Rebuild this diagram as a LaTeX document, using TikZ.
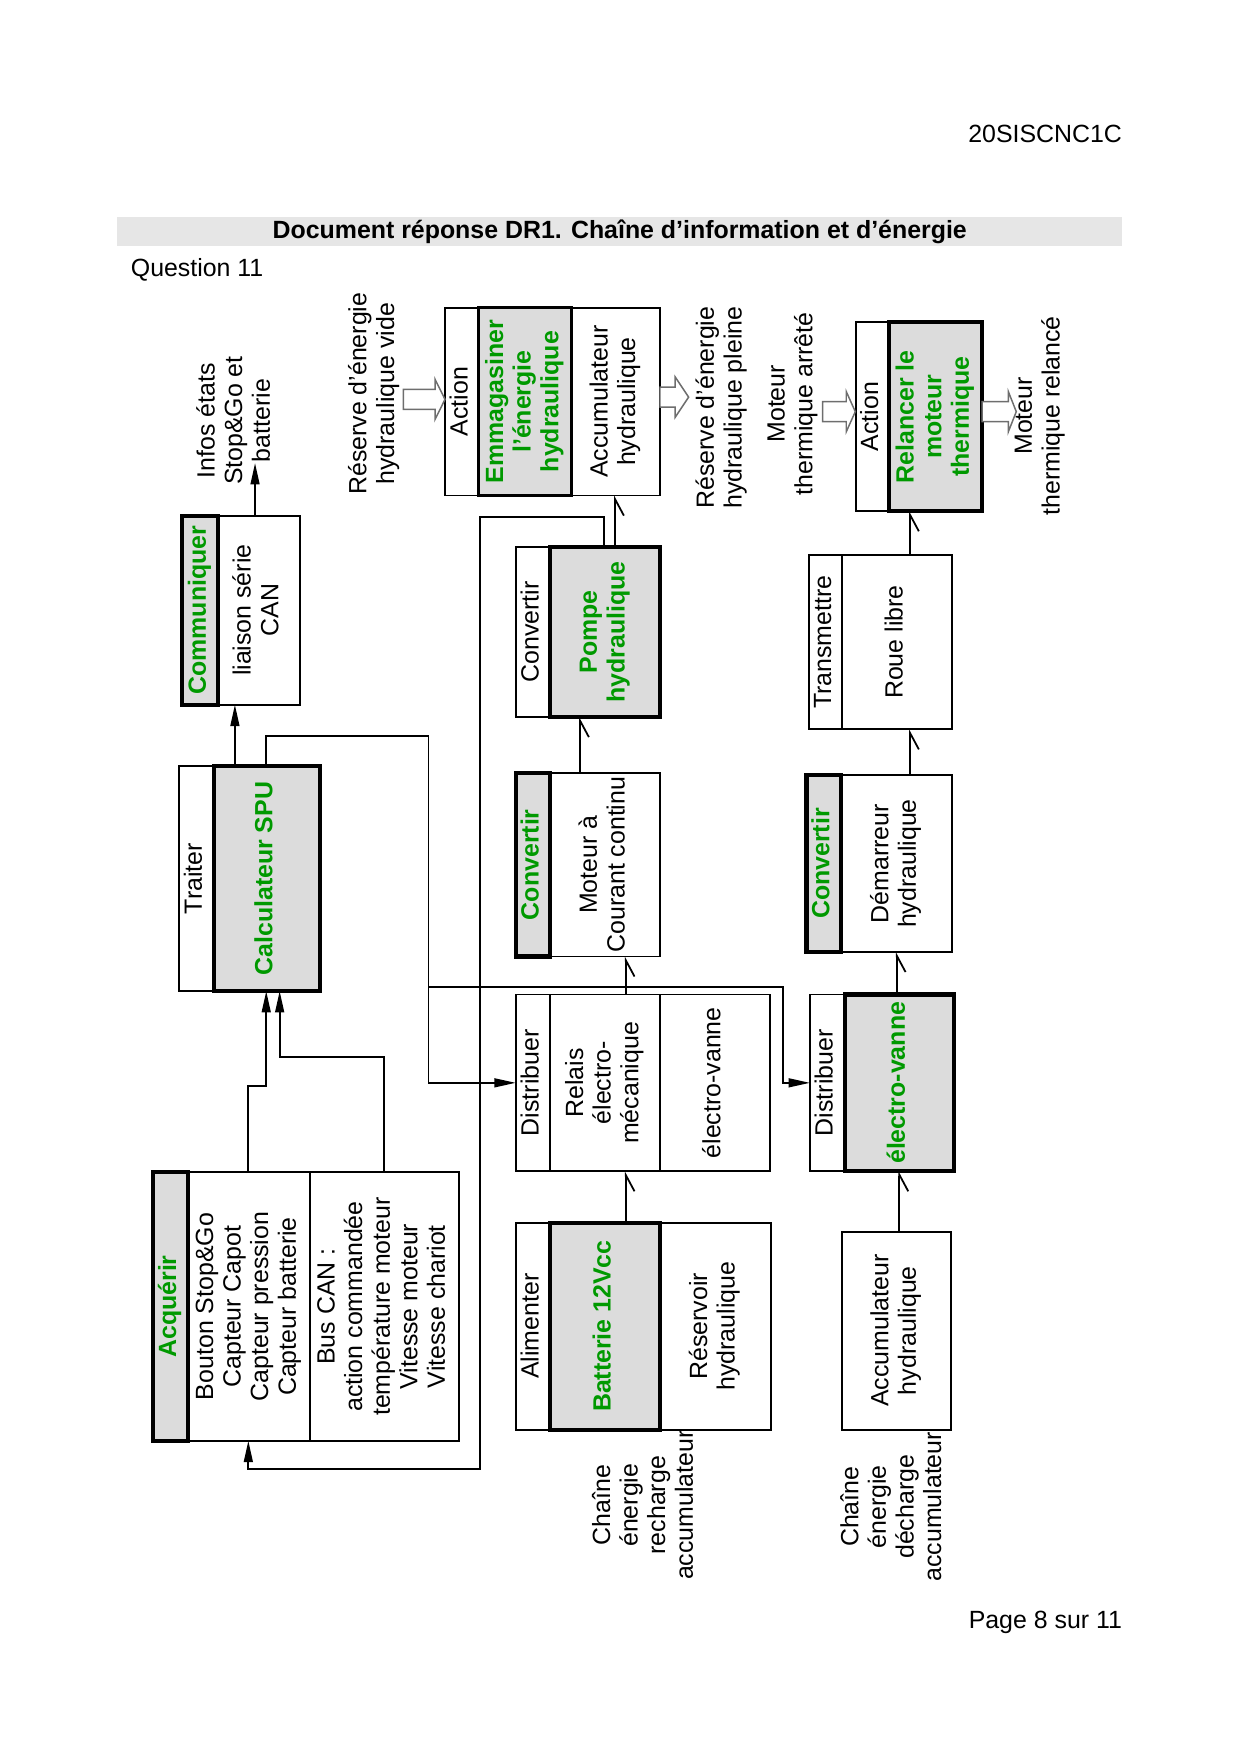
\documentclass[tikz,border=0pt]{standalone}
\usepackage{fontspec}
\setmainfont{Liberation Sans}
\usetikzlibrary{arrows.meta}
\definecolor{vert}{RGB}{0,153,0}
\definecolor{gfill}{RGB}{220,220,220}
\definecolor{bandc}{RGB}{230,230,230}
\definecolor{agray}{RGB}{110,110,110}
\newcommand\vt[1]{\rotatebox{90}{\begin{tabular}{@{}c@{}}#1\end{tabular}}}
\newcommand\mkbox[7]{\node[#2, minimum width={(#5-#3)*0.18944mm}, minimum height={(#6-#4)*0.18944mm}] (#1) at ({(#3+#5)/2},{(#4+#6)/2}) {\vt{#7}};}
\newcommand\barr[4]{\draw[barrow] (#1,{#4-9}) -- (#2,{#4-9}) -- (#2,{#4-18}) -- (#3,#4) -- (#2,{#4+18}) -- (#2,{#4+9}) -- (#1,{#4+9}) -- cycle;}
\begin{document}
\begin{tikzpicture}[x=0.18944mm, y=-0.18944mm,
  every node/.style={inner sep=0pt, outer sep=0pt, font=\fontsize{12}{13.3}\selectfont},
  tb/.style={draw, line width=0.3mm, fill=white},
  gb/.style={draw, line width=0.7mm, fill=gfill, text=vert, font=\fontsize{12}{13.3}\selectfont\bfseries},
  mb/.style={draw, line width=0.45mm, fill=gfill, text=vert, font=\fontsize{12}{13.3}\selectfont\bfseries},
  wire/.style={line width=0.3mm},
  fl/.style={wire, -{Triangle[length=3.6mm,width=1.5mm]}},
  harp/.style={wire, -{Straight Barb[harpoon,swap,length=2.8mm,width=3mm]}},
  barrow/.style={draw=agray, line width=0.25mm, fill=white}]
\useasboundingbox (0,0) rectangle (1108.5,1568);

% header
\node[anchor=base east] (ref) at (1003,127) {20SISCNC1C};
\node[fill=bandc, minimum width={898*0.18944mm}, minimum height={26*0.18944mm}] (band) at (554,207) {};
\node[font=\fontsize{12}{13.3}\selectfont\bfseries] (title) at (band.center) {Document réponse DR1. Chaîne d’information et d’énergie};
\node[anchor=base west] (quest) at (117,247) {Question 11};
\node[anchor=base east] (page) at (1003,1456) {Page 8 sur 11};

% information chain
\mkbox{combox}{tb}{195}{461}{268}{630}{liaison série\\CAN}
\mkbox{com}{gb}{163}{461}{195}{630}{Communiquer}
\mkbox{trt}{tb}{160}{685}{191}{886}{Traiter}
\mkbox{spu}{gb}{191}{685}{286}{886}{Calculateur SPU}
\mkbox{acq1}{tb}{168}{1048}{277}{1288}{Bouton Stop\&Go\\Capteur Capot\\Capteur pression\\Capteur batterie}
\mkbox{acq2}{tb}{277}{1048}{410}{1288}{Bus CAN :\\action commandée\\température moteur\\Vitesse moteur\\Vitesse chariot}
\mkbox{acq}{gb}{137}{1048}{168}{1288}{Acquérir}
\node (infos) at (211.6,376) {\vt{Infos états\\Stop\&Go et\\batterie}};

% energy chain (recharge)
\mkbox{act1}{tb}{398}{275}{428}{443}{Action}
\mkbox{acc}{tb}{511}{275}{590}{443}{Accumulateur\\hydraulique}
\mkbox{emm}{mb}{428}{275}{511}{443}{Emmagasiner\\l’énergie\\hydraulique}
\mkbox{cvp}{tb}{461}{489}{492}{641}{Convertir}
\mkbox{pom}{gb}{492}{489}{590}{641}{Pompe\\hydraulique}
\mkbox{mot}{tb}{492}{691}{590}{855}{Moteur à\\Courant continu}
\mkbox{cvm}{gb}{461}{691}{492}{855}{Convertir}
\mkbox{dis1}{tb}{461}{889}{492}{1047}{Distribuer}
\mkbox{rel}{tb}{492}{889}{590}{1047}{Relais\\électro-\\mécanique}
\mkbox{evn}{tb}{590}{889}{688}{1047}{électro-vanne}
\mkbox{ali}{tb}{461}{1093}{492}{1278}{Alimenter}
\mkbox{res}{tb}{590}{1093}{689}{1278}{Réservoir\\hydraulique}
\mkbox{bat}{gb}{492}{1093}{590}{1278}{Batterie 12Vcc}
\node (lrech) at (577.4,1345.6) {\vt{Chaîne\\énergie\\recharge\\accumulateur}};

% energy chain (discharge)
\mkbox{act2}{tb}{765}{288}{795}{457}{Action}
\mkbox{rlc}{gb}{795}{288}{878}{457}{Relancer le\\moteur\\thermique}
\mkbox{trm}{tb}{723}{496}{753}{652}{Transmettre}
\mkbox{roue}{tb}{753}{496}{851}{652}{Roue libre}
\mkbox{dem}{tb}{752}{693}{851}{851}{Démarreur\\hydraulique}
\mkbox{cvd}{gb}{721}{693}{752}{851}{Convertir}
\mkbox{dis2}{tb}{724}{889}{755}{1047}{Distribuer}
\mkbox{ev}{gb}{755}{889}{853}{1047}{électro-vanne}
\mkbox{acc2}{tb}{753}{1101}{850}{1278}{Accumulateur\\hydraulique}
\node (ldech) at (799.4,1347) {\vt{Chaîne\\énergie\\décharge\\accumulateur}};

% state labels and block arrows
\node (rvide) at (335,352) {\vt{Réserve d’énergie\\hydraulique vide}};
\node (rpleine) at (645.6,364.5) {\vt{Réserve d’énergie\\hydraulique pleine}};
\node (marr) at (708.9,361) {\vt{Moteur\\thermique arrêté}};
\node (mrel) at (929.9,371.8) {\vt{Moteur\\thermique relancé}};
\barr{360.6}{388.9}{397.8}{357}
\barr{590}{603.6}{615.6}{355}
\barr{735.3}{756.5}{764.6}{368}
\barr{878}{901.4}{908.5}{368}

% guide coordinates
\coordinate (c1) at (210,0);
\coordinate (iu) at (228,414);
\coordinate (a1) at (222,971);
\coordinate (a2) at (238,971);
\coordinate (a3) at (343,945);
\coordinate (a4) at (250,945);
\coordinate (k1) at (238,658);
\coordinate (k2) at (383,658);
\coordinate (k3) at (383,882);
\coordinate (k4) at (700,882);
\coordinate (f1) at (540,462);
\coordinate (f2) at (429,462);
\coordinate (f3) at (429,1313);
\coordinate (f4) at (222,1313);
\coordinate (h1) at (518.5,0);
\coordinate (h2) at (549.8,0);
\coordinate (h3) at (559.3,0);
\coordinate (h4) at (804,0);
\coordinate (h5) at (801.6,0);
\coordinate (h6) at (813.5,0);

% information connectors
\draw[fl] (spu.north -| c1) -- (combox.south -| c1);
\draw[fl] (combox.north -| iu) -- (iu);
\draw[fl] (acq1.north -| a1) -- (a1) -- (a2) -- (spu.south -| a2);
\draw[fl] (acq2.north -| a3) -- (a3) -- (a4) -- (spu.south -| a4);
\draw[fl] (spu.north -| k1) -- (k1) -- (k2) |- (dis1.west);
\draw[fl] (k3) -- (k4) |- (dis2.west);
\draw[fl] (pom.north -| f1) -- (f1) -- (f2) -- (f3) -- (f4) -- (acq1.south -| f4);

% energy connectors
\draw[harp] (bat.north -| h3) -- (rel.south -| h3);
\draw[harp] (rel.north -| h3) -- (mot.south -| h3);
\draw[harp] (mot.north -| h1) -- (pom.south -| h1);
\draw[harp] (pom.north -| h2) -- (acc.south -| h2);
\draw[harp] (acc2.north -| h4) -- (ev.south -| h4);
\draw[harp] (ev.north -| h5) -- (dem.south -| h5);
\draw[harp] (dem.north -| h6) -- (roue.south -| h6);
\draw[harp] (roue.north -| h6) -- (rlc.south -| h6);
\end{tikzpicture}
\end{document}
